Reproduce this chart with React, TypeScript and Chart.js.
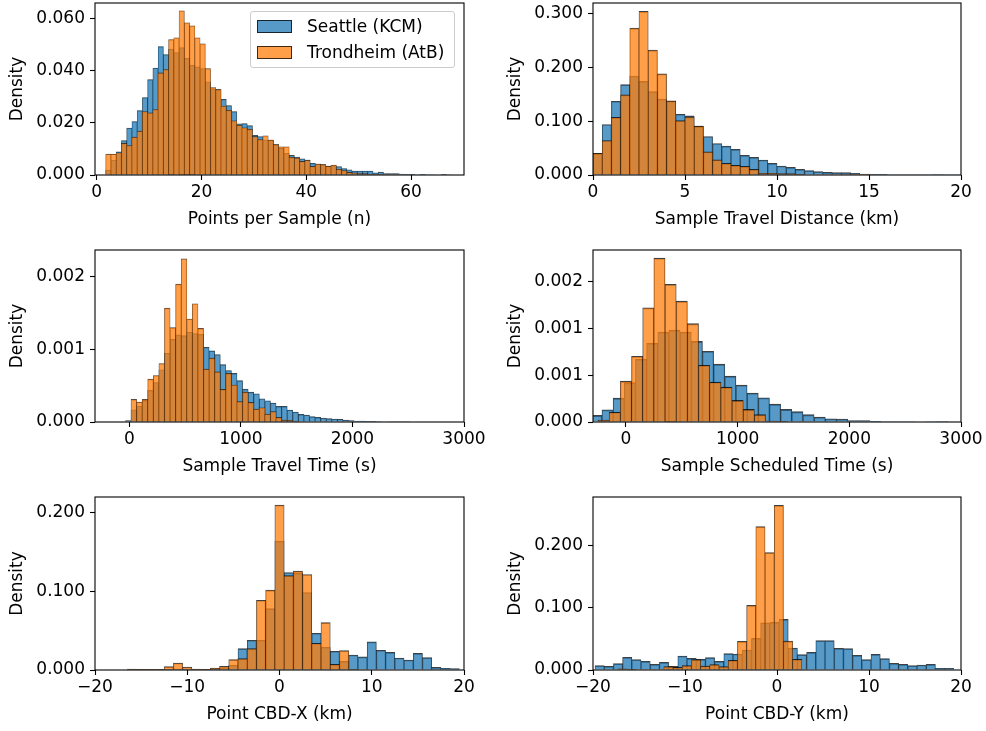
import React, { useEffect, useRef } from "react";
import { Chart, registerables } from "chart.js";

Chart.register(...registerables);

// ---------------- data ----------------
const SERIES = ["Seattle (KCM)", "Trondheim (AtB)"];

// Panel 1: Points per Sample (n)
const pointsBinStart = 1.73;
const pointsBinWidth = 1;
const pointsSeattle = [
  0.0019, 0.0057, 0.0089, 0.0132, 0.018, 0.0205, 0.0247, 0.0297, 0.0366, 0.041,
  0.0492, 0.0461, 0.0482, 0.0469, 0.0488, 0.0447, 0.042, 0.0414, 0.0408, 0.0357,
  0.033, 0.0327, 0.029, 0.0266, 0.0243, 0.0196, 0.0197, 0.0189, 0.0152, 0.0147,
  0.0134, 0.0134, 0.0117, 0.0102, 0.0083, 0.0075, 0.0069, 0.0062, 0.0057, 0.0045,
  0.0042, 0.004, 0.0034, 0.0036, 0.0032, 0.0025, 0.002, 0.0015, 0.0015, 0.0015,
  0.0015, 0.0008, 0.0011, 0.0005, 0.0005, 0.0005, 0.0004, 0.0003, 0.0003, 0.0001,
  0.0003, 0.0001, 0.0001, 0.0, 0.0003, 0.0001,
];
const pointsTrondheim = [
  0.008, 0.008, 0.0085, 0.0121, 0.0113, 0.0145, 0.0168, 0.0243, 0.0238, 0.0251,
  0.0391, 0.0404, 0.0519, 0.0526, 0.0629, 0.0583, 0.0572, 0.0526, 0.0503, 0.0408,
  0.0335, 0.0327, 0.0264, 0.0248, 0.0208, 0.0191, 0.0181, 0.0175, 0.0147, 0.0136,
  0.015, 0.0134, 0.0117, 0.0108, 0.0108, 0.0068, 0.0065, 0.0052, 0.0057, 0.0033,
  0.0042, 0.004, 0.0034, 0.0038, 0.0022, 0.0017, 0.001, 0.0008, 0.0005, 0.0005,
  0.0004, 0.0003, 0.0003, 0.0002, 0.0001, 0.0001, 0.0001, 0, 0, 0,
  0, 0, 0, 0, 0, 0,
];
const pointsXTicks = [0, 20, 40, 60];
const pointsXTickLabels = ["0", "20", "40", "60"];
const pointsYTicks = [0, 0.02, 0.04, 0.06];
const pointsYTickLabels = ["0.000", "0.020", "0.040", "0.060"];

// Panel 2: Sample Travel Distance (km)
const distBinStart = 0;
const distBinWidth = 0.5;
const distSeattle = [
  0.04, 0.0938, 0.137, 0.168, 0.184, 0.174, 0.155, 0.141, 0.137, 0.113,
  0.11, 0.0907, 0.0716, 0.0586, 0.0537, 0.0475, 0.0364, 0.0327, 0.0278, 0.0216,
  0.0167, 0.0142, 0.0105, 0.008, 0.0062, 0.0049, 0.0043, 0.0043, 0.0031, 0.0019,
  0.0012, 0.0012, 0.0006, 0.0006, 0.0004, 0.0004, 0.0003, 0.0001, 0.0004, 0.0003,
];
const distTrondheim = [
  0.0401, 0.0642, 0.107, 0.149, 0.273, 0.304, 0.232, 0.188, 0.138, 0.101,
  0.108, 0.0907, 0.0432, 0.0284, 0.0216, 0.0179, 0.016, 0.0105, 0.0031, 0.0031,
  0.0025, 0.0025, 0.0012, 0.0008, 0.0005, 0.0004, 0.0003, 0.0002, 0.0001, 0.0001,
  0, 0, 0, 0, 0, 0, 0, 0, 0, 0,
];
const distXTicks = [0, 5, 10, 15, 20];
const distXTickLabels = ["0", "5", "10", "15", "20"];
const distYTicks = [0, 0.1, 0.2, 0.3];
const distYTickLabels = ["0.000", "0.100", "0.200", "0.300"];

// Panel 3: Sample Travel Time (s)
const travelSeattleStart = -35;
const travelTrondheimStart = 15;
const travelBinWidth = 50;
const travelSeattle = [
  0.00002, 0.000169, 0.00022, 0.000298, 0.000435, 0.000545, 0.00072, 0.000948, 0.00114, 0.0012,
  0.00119, 0.00124, 0.00122, 0.00121, 0.00103, 0.00098, 0.00093, 0.00079, 0.00071, 0.00067,
  0.00057, 0.000453, 0.000412, 0.000389, 0.00032, 0.000293, 0.000261, 0.000215, 0.000215, 0.000165,
  0.000137, 0.000105, 0.000096, 0.000073, 0.000064, 0.000055, 0.000046, 0.000041, 0.000037, 0.000027,
  0.000018, 0.000014, 0.000012, 0.00001, 0.000008, 0.000007, 0.000006, 0.000005, 0.000004, 0.000003,
  0.000003,
];
const travelTrondheim = [
  0.000311, 0.000275, 0.000311, 0.000591, 0.000641, 0.000806, 0.00157, 0.0013, 0.0019, 0.00225,
  0.00142, 0.00163, 0.00129, 0.00073, 0.00088, 0.00069, 0.00045, 0.00067, 0.00051, 0.00028,
  0.000412, 0.00027, 0.000179, 0.000197, 0.00011, 0.000142, 0.000064, 0.000027, 0.000023, 0.00001,
  0.000005,
];
const travelXTicks = [0, 1000, 2000, 3000];
const travelXTickLabels = ["0", "1000", "2000", "3000"];
const travelYTicks = [0, 0.001, 0.002];
const travelYTickLabels = ["0.000", "0.001", "0.002"];

// Panel 4: Sample Scheduled Time (s)
const schedSeattleStart = -315;
const schedTrondheimStart = -250;
const schedBinWidth = 100;
const schedSeattle = [
  0.000071, 0.000131, 0.000255, 0.00042, 0.00067, 0.00084, 0.00096, 0.00098, 0.00096, 0.00086,
  0.000755, 0.000617, 0.00049, 0.000394, 0.000309, 0.000259, 0.000191, 0.000135, 0.00011, 0.000078,
  0.000053, 0.000035, 0.000032, 0.000014, 0.000014, 0.000007, 0.0000035, 0.000003, 0.000003, 0.000005,
  0.000002, 0.000001,
];
const schedTrondheim = [
  0.00002, 0.000106, 0.000436, 0.000702, 0.00122, 0.00175, 0.00147, 0.00129, 0.00105, 0.000606,
  0.000426, 0.000372, 0.00023, 0.000135, 0.000078, 0.00001, 0.000007, 0.000005, 0.000003,
];
const schedXTicks = [0, 1000, 2000, 3000];
const schedXTickLabels = ["0", "1000", "2000", "3000"];
const schedYTicks = [0, 0.0005, 0.001, 0.0015];
const schedYTickLabels = ["0.000", "0.001", "0.001", "0.002"];

// Panel 5: Point CBD-X (km)
const cbdxBinStart = -16.5;
const cbdxBinWidth = 1;
const cbdxSeattle = [
  0.0008, 0.0008, 0.0008, 0.0008, 0.001, 0.0012, 0.0012, 0.001, 0.0008, 0.0015,
  0.0025, 0.006, 0.0272, 0.0378, 0.0378, 0.0781, 0.1639, 0.124, 0.1231, 0.0985,
  0.0467, 0.0289, 0.0238, 0.011, 0.0191, 0.0166, 0.0357, 0.0251, 0.0225, 0.0153,
  0.0127, 0.0212, 0.0157, 0.0034, 0.0021, 0.0017,
];
const cbdxTrondheim = [
  0.0013, 0.0008, 0.0008, 0.0008, 0.0042, 0.0089, 0.0038, 0.0013, 0.0008, 0.0025,
  0.0047, 0.0132, 0.0144, 0.0272, 0.0887, 0.1015, 0.2098, 0.12, 0.1257, 0.1214,
  0.034, 0.0603, 0.0072, 0.0246, 0.0008, 0.0004, 0, 0, 0, 0,
  0, 0, 0, 0, 0, 0,
];
const cbdxXTicks = [-20, -10, 0, 10, 20];
const cbdxXTickLabels = ["\u221220", "\u221210", "0", "10", "20"];
const cbdxYTicks = [0, 0.1, 0.2];
const cbdxYTickLabels = ["0.000", "0.100", "0.200"];

// Panel 6: Point CBD-Y (km)
const cbdySeattleStart = -19.78;
const cbdyTrondheimStart = -17.3;
const cbdyBinWidth = 1;
const cbdySeattle = [
  0.007, 0.0059, 0.0102, 0.0204, 0.0166, 0.0139, 0.0091, 0.0123, 0.0059, 0.0225,
  0.0188, 0.0171, 0.0198, 0.0139, 0.0263, 0.0257, 0.0322, 0.0509, 0.0761, 0.0766,
  0.0815, 0.0354, 0.0247, 0.0284, 0.0472, 0.0472, 0.0348, 0.0343, 0.0236, 0.0166,
  0.0252, 0.0182, 0.0107, 0.0091, 0.007, 0.008, 0.0091, 0.0027, 0.0027,
];
const cbdyTrondheim = [
  0.002, 0.001, 0.0005, 0.0005, 0.0005, 0.0054, 0.0043, 0.007, 0.0166, 0.0064,
  0.0086, 0.0054, 0.0155, 0.0461, 0.104, 0.231, 0.189, 0.265, 0.0466, 0.0171,
];
const cbdyXTicks = [-20, -10, 0, 10, 20];
const cbdyXTickLabels = ["\u221220", "\u221210", "0", "10", "20"];
const cbdyYTicks = [0, 0.1, 0.2];
const cbdyYTickLabels = ["0.000", "0.100", "0.200"];

// ---------------- styles / layout ----------------
const FONT_FAMILY = "'DejaVu Sans', 'Liberation Sans', sans-serif";
const FONT_SIZE = 17;
const BLUE_FILL = "rgba(31,119,180,0.75)";
const ORANGE_FILL = "rgba(255,127,14,0.75)";
const EDGE = "rgba(0,0,0,0.75)";

const COL_LEFT = [95, 593];
const COL_RIGHT = [464, 961];
const ROW_TOP = [3, 250, 497];
const ROW_BOTTOM = [175, 422, 670];
const Y_AXIS_W = 88;
const X_AXIS_H = 55;
const PAD_TOP = 3;
const PAD_RIGHT = 30;

type Spec = {
  col: number;
  row: number;
  xTitle: string;
  xMin: number;
  xMax: number;
  yMax: number;
  xTicks: number[];
  xTickLabels: string[];
  yTicks: number[];
  yTickLabels: string[];
  blue: number[];
  blueStart: number;
  blueWidth: number;
  orange: number[];
  orangeStart: number;
  orangeWidth: number;
  edge: number;
};

const panels: Spec[] = [
  {
    col: 0, row: 0, xTitle: "Points per Sample (n)", xMin: -0.32, xMax: 70.1, yMax: 0.0659,
    xTicks: pointsXTicks, xTickLabels: pointsXTickLabels, yTicks: pointsYTicks, yTickLabels: pointsYTickLabels,
    blue: pointsSeattle, blueStart: pointsBinStart, blueWidth: pointsBinWidth,
    orange: pointsTrondheim, orangeStart: pointsBinStart, orangeWidth: pointsBinWidth, edge: 0.6,
  },
  {
    col: 1, row: 0, xTitle: "Sample Travel Distance (km)", xMin: 0, xMax: 20, yMax: 0.3197,
    xTicks: distXTicks, xTickLabels: distXTickLabels, yTicks: distYTicks, yTickLabels: distYTickLabels,
    blue: distSeattle, blueStart: distBinStart, blueWidth: distBinWidth,
    orange: distTrondheim, orangeStart: distBinStart, orangeWidth: distBinWidth, edge: 1.0,
  },
  {
    col: 0, row: 1, xTitle: "Sample Travel Time (s)", xMin: -308, xMax: 3000, yMax: 0.002371,
    xTicks: travelXTicks, xTickLabels: travelXTickLabels, yTicks: travelYTicks, yTickLabels: travelYTickLabels,
    blue: travelSeattle, blueStart: travelSeattleStart, blueWidth: travelBinWidth,
    orange: travelTrondheim, orangeStart: travelTrondheimStart, orangeWidth: travelBinWidth, edge: 0.7,
  },
  {
    col: 1, row: 1, xTitle: "Sample Scheduled Time (s)", xMin: -295, xMax: 3000, yMax: 0.001836,
    xTicks: schedXTicks, xTickLabels: schedXTickLabels, yTicks: schedYTicks, yTickLabels: schedYTickLabels,
    blue: schedSeattle, blueStart: schedSeattleStart, blueWidth: schedBinWidth,
    orange: schedTrondheim, orangeStart: schedTrondheimStart, orangeWidth: schedBinWidth, edge: 1.2,
  },
  {
    col: 0, row: 2, xTitle: "Point CBD-X (km)", xMin: -20, xMax: 20, yMax: 0.22,
    xTicks: cbdxXTicks, xTickLabels: cbdxXTickLabels, yTicks: cbdxYTicks, yTickLabels: cbdxYTickLabels,
    blue: cbdxSeattle, blueStart: cbdxBinStart, blueWidth: cbdxBinWidth,
    orange: cbdxTrondheim, orangeStart: cbdxBinStart, orangeWidth: cbdxBinWidth, edge: 1.0,
  },
  {
    col: 1, row: 2, xTitle: "Point CBD-Y (km)", xMin: -20, xMax: 20, yMax: 0.2786,
    xTicks: cbdyXTicks, xTickLabels: cbdyXTickLabels, yTicks: cbdyYTicks, yTickLabels: cbdyYTickLabels,
    blue: cbdySeattle, blueStart: cbdySeattleStart, blueWidth: cbdyBinWidth,
    orange: cbdyTrondheim, orangeStart: cbdyTrondheimStart, orangeWidth: cbdyBinWidth, edge: 1.0,
  },
];

const framePlugin = {
  id: "frame",
  afterDraw(chart: any) {
    const { ctx, chartArea: a } = chart;
    ctx.save();
    ctx.strokeStyle = "#000";
    ctx.lineWidth = 1.1;
    ctx.strokeRect(a.left, a.top, a.right - a.left, a.bottom - a.top);
    ctx.restore();
  },
};

function toPoints(values: number[], start: number, width: number) {
  return values.map((v, i) => ({ x: start + width * (i + 0.5), y: v }));
}

function buildConfig(s: Spec): any {
  const font = { family: FONT_FAMILY, size: FONT_SIZE };
  const bw = { top: s.edge, left: s.edge / 2, right: s.edge / 2, bottom: 0 };
  const common = {
    grouped: false,
    barPercentage: 1,
    categoryPercentage: 1,
    borderColor: EDGE,
    borderWidth: bw,
    borderSkipped: "start",
  };
  return {
    type: "bar",
    data: {
      datasets: [
        {
          ...common,
          label: SERIES[0],
          data: toPoints(s.blue, s.blueStart, s.blueWidth),
          backgroundColor: BLUE_FILL,
          xAxisID: "x",
          order: 2,
        },
        {
          ...common,
          label: SERIES[1],
          data: toPoints(s.orange, s.orangeStart, s.orangeWidth),
          backgroundColor: ORANGE_FILL,
          xAxisID: "x2",
          order: 1,
        },
      ],
    },
    options: {
      animation: false,
      responsive: false,
      maintainAspectRatio: false,
      events: [],
      layout: { padding: { left: 0, top: PAD_TOP, right: PAD_RIGHT, bottom: 0 } },
      plugins: { legend: { display: false }, tooltip: { enabled: false } },
      scales: {
        x: {
          type: "linear",
          position: "bottom",
          offset: false,
          min: s.xMin,
          max: s.xMax,
          afterBuildTicks: (sc: any) => {
            sc.ticks = s.xTicks.map((v) => ({ value: v }));
          },
          afterFit: (sc: any) => {
            sc.height = X_AXIS_H;
            sc.paddingLeft = 0;
            sc.paddingRight = 0;
          },
          ticks: {
            autoSkip: false,
            maxRotation: 0,
            padding: 2,
            color: "#000",
            font,
            callback: (_v: any, i: number) => s.xTickLabels[i],
          },
          grid: {
            display: true,
            offset: false,
            drawOnChartArea: false,
            drawTicks: true,
            tickLength: 5,
            tickWidth: 1.1,
            tickColor: "#000",
          },
          border: { display: false },
          title: {
            display: true,
            text: s.xTitle,
            color: "#000",
            font,
            padding: { top: 0, bottom: 0 },
          },
        },
        x2: {
          type: "linear",
          display: false,
          offset: false,
          grid: { offset: false },
          min: s.xMin,
          max: s.xMax,
          afterBuildTicks: (sc: any) => {
            sc.ticks = s.xTicks.map((v) => ({ value: v }));
          },
        },
        y: {
          type: "linear",
          position: "left",
          min: 0,
          max: s.yMax,
          afterBuildTicks: (sc: any) => {
            sc.ticks = s.yTicks.map((v) => ({ value: v }));
          },
          afterFit: (sc: any) => {
            sc.width = Y_AXIS_W;
            sc.paddingTop = 0;
            sc.paddingBottom = 0;
          },
          ticks: {
            autoSkip: false,
            padding: 5,
            color: "#000",
            font,
            callback: (_v: any, i: number) => s.yTickLabels[i],
          },
          grid: {
            display: true,
            drawOnChartArea: false,
            drawTicks: true,
            tickLength: 5,
            tickWidth: 1.1,
            tickColor: "#000",
          },
          border: { display: false },
          title: {
            display: true,
            text: "Density",
            color: "#000",
            font,
            padding: { top: 0, bottom: 0 },
          },
        },
      },
    },
    plugins: [framePlugin],
  };
}

function Panel({ spec }: { spec: Spec }) {
  const ref = useRef<HTMLCanvasElement | null>(null);
  const plotW = COL_RIGHT[spec.col] - COL_LEFT[spec.col];
  const plotH = ROW_BOTTOM[spec.row] - ROW_TOP[spec.row];
  const left = COL_LEFT[spec.col] - Y_AXIS_W;
  const top = ROW_TOP[spec.row] - PAD_TOP;
  const width = Y_AXIS_W + plotW + PAD_RIGHT;
  const height = PAD_TOP + plotH + X_AXIS_H;
  useEffect(() => {
    if (!ref.current) return;
    const chart = new Chart(ref.current, buildConfig(spec));
    return () => chart.destroy();
  }, [spec]);
  return (
    <canvas
      ref={ref}
      width={width}
      height={height}
      style={{ position: "absolute", left, top, width, height }}
    />
  );
}

function Legend() {
  const row = (label: string, fill: string, top: number) => (
    <div style={{ position: "absolute", left: 0, top, height: 14, width: "100%" }}>
      <div
        style={{
          position: "absolute",
          left: 6,
          top: 0,
          width: 35,
          height: 13,
          boxSizing: "border-box",
          background: fill,
          border: `1px solid ${EDGE}`,
        }}
      />
      <div
        style={{
          position: "absolute",
          left: 56,
          top: -4,
          fontFamily: FONT_FAMILY,
          fontSize: FONT_SIZE,
          lineHeight: "20px",
          color: "#000",
          whiteSpace: "nowrap",
        }}
      >
        {label}
      </div>
    </div>
  );
  return (
    <div
      style={{
        position: "absolute",
        left: 250,
        top: 11,
        width: 205,
        height: 57,
        boxSizing: "border-box",
        border: "1px solid #cccccc",
        borderRadius: 3,
        background: "rgba(255,255,255,0.8)",
      }}
    >
      {row(SERIES[0], BLUE_FILL, 8)}
      {row(SERIES[1], ORANGE_FILL, 34)}
    </div>
  );
}

export default function App() {
  return (
    <div
      style={{
        position: "absolute",
        left: 0,
        top: 0,
        width: 986,
        height: 731,
        background: "#fff",
        overflow: "hidden",
      }}
    >
      {panels.map((p, i) => (
        <Panel key={i} spec={p} />
      ))}
      <Legend />
    </div>
  );
}
